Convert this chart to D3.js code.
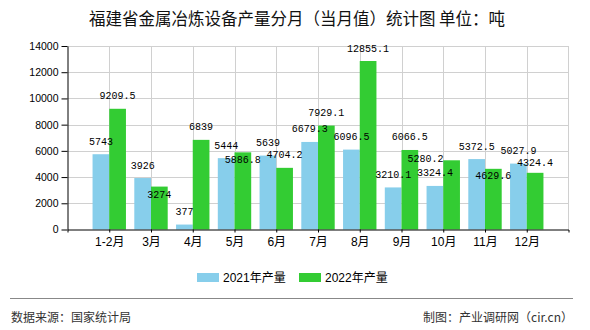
<!DOCTYPE html>
<html>
<head>
<meta charset="utf-8">
<script src="https://cdn.jsdelivr.net/npm/d3@7"></script>
<style>
  html, body { margin: 0; padding: 0; background: #fff; }
  svg { display: block; }
</style>
</head>
<body>
<svg id="chart" width="590" height="330"></svg>
<script>
// ---- data ----
const categories = ["1-2月", "3月", "4月", "5月", "6月", "7月", "8月", "9月", "10月", "11月", "12月"];
const values2021 = [5743, 3926, 377, 5444, 5639, 6679.3, 6096.5, 3210.1, 3324.4, 5372.5, 5027.9];
const values2022 = [9209.5, 3274, 6839, 5886.8, 4704.2, 7929.1, 12855.1, 6066.5, 5280.2, 4629.6, 4324.4];
const labels2021 = ["5743", "3926", "377", "5444", "5639", "6679.3", "6096.5", "3210.1", "3324.4", "5372.5", "5027.9"];
const labels2022 = ["9209.5", "3274", "6839", "5886.8", "4704.2", "7929.1", "12855.1", "6066.5", "5280.2", "4629.6", "4324.4"];
const seriesNames = ["2021年产量", "2022年产量"];
const yTicks = [0, 2000, 4000, 6000, 8000, 10000, 12000, 14000];
const titleText = "福建省金属冶炼设备产量分月（当月值）统计图 单位：吨";
const sourceText = "数据来源：国家统计局";
const creditText = "制图：产业调研网（cir.cn）";

// label collision nudges used by the original chart (px, for 2022 series)
const nudge2022dx = [0, 0, 0, 0, 0, 0, 0, 0, -26, 0, 0];
const nudge2022dy = [0, 21, 0, 20, 0, 0, 0, 0, 11, 20, 3];

const colors = ["#87CEEB", "#33CC33"];
const cjk = "'Liberation Sans', 'Noto Sans CJK SC', sans-serif";
const mono = "'Liberation Mono', 'DejaVu Sans Mono', monospace";

const svg = d3.select("#chart");
const L = 67.5, R = 568.5, T = 46, B = 229.5;

const x = d3.scalePoint().domain(categories).range([L, R]).padding(1);
const step = x.step();
const bw = step * 0.4;
const y = d3.scaleLinear().domain([0, 14000]).range([B, T]);

// title
svg.append("text").attr("x", 297).attr("y", 18)
  .attr("text-anchor", "middle").attr("dominant-baseline", "central")
  .style("font-family", "'Noto Sans CJK SC', sans-serif").style("font-size", "16.5px")
  .attr("fill", "#111").text(titleText);

// grid
const grid = svg.append("g").attr("stroke", "#d0d0d0").attr("stroke-width", 1);
yTicks.filter(d => d > 0).forEach(d => {
  grid.append("line").attr("x1", L).attr("x2", R)
    .attr("y1", Math.round(y(d)) + 0.5).attr("y2", Math.round(y(d)) + 0.5);
});
categories.forEach(c => {
  const xx = Math.round(x(c)) + 0.5;
  grid.append("line").attr("x1", xx).attr("x2", xx).attr("y1", T).attr("y2", B);
});
grid.append("line").attr("x1", R).attr("x2", R).attr("y1", T).attr("y2", B);

// bars
const bars = svg.append("g");
categories.forEach((c, i) => {
  bars.append("rect").attr("x", x(c) - bw).attr("width", bw)
    .attr("y", y(values2021[i])).attr("height", B - y(values2021[i]))
    .attr("fill", colors[0]);
  bars.append("rect").attr("x", x(c)).attr("width", bw)
    .attr("y", y(values2022[i])).attr("height", B - y(values2022[i]))
    .attr("fill", colors[1]);
});

// axes
const yAxis = svg.append("g").attr("transform", `translate(${L},0)`)
  .call(d3.axisLeft(y).tickValues(yTicks).tickSizeInner(6).tickSizeOuter(0).tickPadding(3).tickFormat(d3.format("d")));
yAxis.select(".domain").attr("stroke", "#000");
yAxis.selectAll(".tick line").attr("stroke", "#000");
yAxis.selectAll("text").style("font-family", "'Liberation Sans', sans-serif").style("font-size", "10.5px").attr("fill", "#000");

const xAxis = svg.append("g").attr("transform", `translate(0,${B})`)
  .call(d3.axisBottom(x).tickSizeInner(3).tickSizeOuter(3).tickPadding(3));
xAxis.select(".domain").attr("stroke", "#000");
xAxis.selectAll(".tick line").attr("stroke", "#000");
xAxis.selectAll("text").attr("y", 12.5).attr("dy", "0.35em")
  .style("font-family", cjk).style("font-size", "12px").attr("fill", "#000");

// data labels
const lab = svg.append("g").style("font-family", mono).style("font-size", "10px").attr("fill", "#000")
  .attr("text-anchor", "middle").attr("dominant-baseline", "central");
categories.forEach((c, i) => {
  lab.append("text").attr("x", x(c) - bw / 2).attr("y", y(values2021[i]) - 12).text(labels2021[i]);
  lab.append("text").attr("x", x(c) + bw / 2 + nudge2022dx[i]).attr("y", y(values2022[i]) - 12 + nudge2022dy[i]).text(labels2022[i]);
});

// legend
const leg = svg.append("g");
const legX = [197, 299];
seriesNames.forEach((s, k) => {
  leg.append("rect").attr("x", legX[k]).attr("y", 273).attr("width", 22).attr("height", 9).attr("fill", colors[k]);
  leg.append("text").attr("x", legX[k] + 26).attr("y", 277.5).attr("dominant-baseline", "central")
    .style("font-family", cjk).style("font-size", "12px").attr("fill", "#000").text(s);
});

// separator & footer
svg.append("line").attr("x1", 10).attr("x2", 573).attr("y1", 298.5).attr("y2", 298.5)
  .attr("stroke", "#888").attr("stroke-width", 1);
svg.append("text").attr("x", 11).attr("y", 316).attr("dominant-baseline", "central")
  .style("font-family", "'Noto Sans CJK SC', sans-serif").style("font-size", "12px").attr("fill", "#333").text(sourceText);
svg.append("text").attr("x", 573).attr("y", 316).attr("text-anchor", "end").attr("dominant-baseline", "central")
  .style("font-family", "'Noto Sans CJK SC', sans-serif").style("font-size", "12px").attr("fill", "#333").text(creditText);
</script>
</body>
</html>
